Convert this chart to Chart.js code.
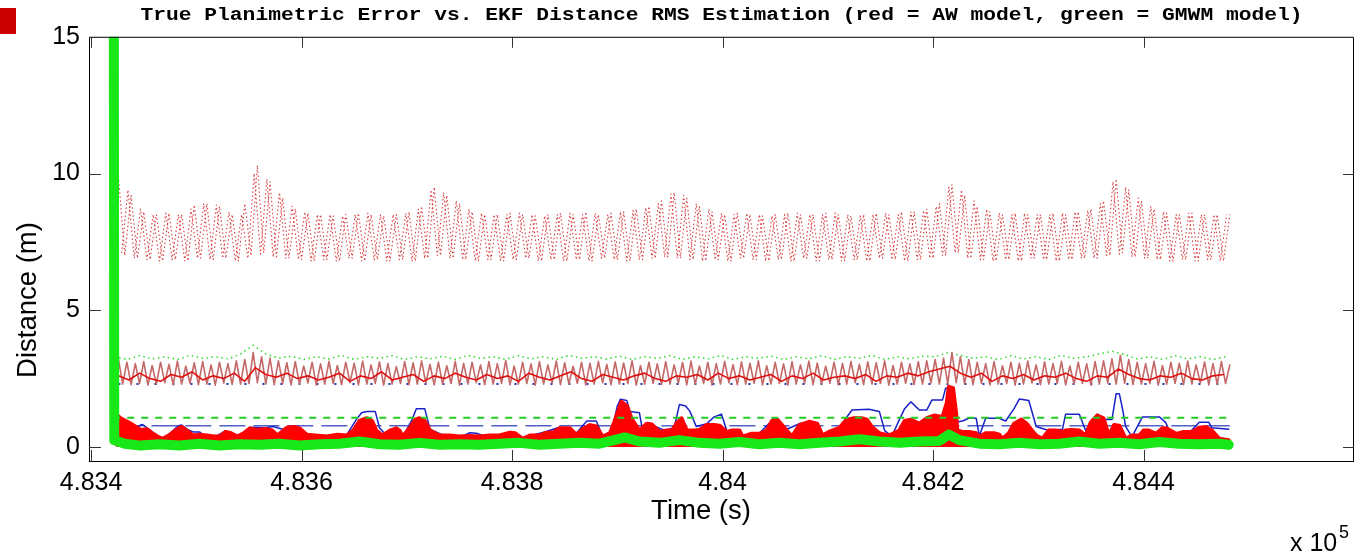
<!DOCTYPE html>
<html>
<head>
<meta charset="utf-8">
<title>True Planimetric Error vs. EKF Distance RMS Estimation</title>
<script src="https://cdn.jsdelivr.net/npm/chart.js"></script>
<style>
  html, body { margin: 0; padding: 0; background: #ffffff; }
  #wrap { position: relative; width: 1366px; height: 552px; }
  #mark { position: absolute; left: 0; top: 8px; width: 16px; height: 26px; background: #cc0000; }
  canvas { display: block; }
</style>
</head>
<body>
<div id="wrap"><div id="mark"></div><canvas id="c" width="1366" height="552"></canvas></div>
<script>
// ---------------- data (times are seconds, stored as offsets from T0) ----------------
const T0 = 483400;
const TITLE = 'True Planimetric Error vs. EKF Distance RMS Estimation (red = AW model, green = GMWM model)';
const X_LABEL = 'Time (s)';
const Y_LABEL = 'Distance (m)';
const xTickVals = [483400, 483600, 483800, 484000, 484200, 484400];
const xTickLabels = ['4.834', '4.836', '4.838', '4.84', '4.842', '4.844'];
const yTickVals = [0, 5, 10, 15];
const yTickLabels = ['0', '5', '10', '15'];

// AW model upper dotted envelope, two interleaved traces sampled every 6 s
const upperAStart = 26, upperAStep = 6;
const upperA = [
  9.9,7.0,9.2,6.9,8.6,6.85,8.5,6.8,8.55,6.85,
  8.5,6.8,8.85,6.9,8.9,6.85,8.8,6.9,8.5,6.8,
  8.9,7.0,10.3,7.1,9.7,6.95,9.1,6.9,8.7,6.85,
  8.55,6.8,8.5,6.85,8.45,6.8,8.5,6.9,8.55,6.8,
  8.5,6.85,8.45,6.8,8.5,6.85,8.6,6.8,8.8,6.9,
  9.5,7.0,9.2,6.9,8.9,6.85,8.6,6.8,8.5,6.85,
  8.5,6.8,8.55,6.85,8.5,6.9,8.45,6.8,8.5,6.85,
  8.55,6.8,8.5,6.85,8.6,6.8,8.5,6.9,8.55,6.85,
  8.6,6.8,8.7,6.85,8.8,6.9,9.0,6.95,9.3,6.9,
  9.1,6.85,8.8,6.8,8.6,6.85,8.5,6.8,8.55,6.9,
  8.5,6.85,8.45,6.8,8.5,6.85,8.55,6.8,8.5,6.9,
  8.5,6.8,8.55,6.85,8.5,6.8,8.45,6.85,8.5,6.8,
  8.55,6.9,8.5,6.85,8.6,6.8,8.6,6.85,8.7,6.9,
  8.9,7.0,9.6,7.1,9.2,6.9,8.8,6.85,8.6,6.8,
  8.5,6.85,8.55,6.8,8.5,6.9,8.5,6.85,8.55,6.8,
  8.5,6.85,8.6,6.9,8.7,6.9,9.0,7.0,9.8,7.1,
  9.4,6.95,9.0,6.9,8.7,6.85,8.55,6.8,8.5,6.85,
  8.55,6.8,8.5,6.85,8.5,6.8,8.5
];
const upperBStart = 29, upperBStep = 6;
const upperB = [
  7.1,9.4,6.9,8.7,6.85,8.5,6.8,8.55,6.85,8.5,
  6.8,8.7,6.9,8.9,6.85,8.85,6.9,8.6,6.8,8.5,
  6.9,10.0,7.05,9.8,6.95,9.3,6.9,8.8,6.85,8.6,
  6.8,8.5,6.85,8.5,6.8,8.45,6.9,8.5,6.8,8.55,
  6.85,8.5,6.8,8.5,6.85,8.55,6.8,8.7,6.9,9.4,
  7.0,9.3,6.9,9.0,6.85,8.7,6.8,8.55,6.85,8.5,
  6.8,8.5,6.85,8.55,6.9,8.5,6.8,8.45,6.85,8.5,
  6.8,8.55,6.85,8.5,6.8,8.55,6.9,8.5,6.85,8.6,
  6.8,8.65,6.85,8.75,6.9,8.9,6.95,9.25,6.9,9.2,
  6.85,8.9,6.8,8.7,6.85,8.55,6.8,8.5,6.9,8.55,
  6.85,8.5,6.8,8.45,6.85,8.5,6.8,8.55,6.9,8.5,
  6.8,8.5,6.85,8.55,6.8,8.5,6.85,8.45,6.8,8.5,
  6.9,8.55,6.85,8.5,6.8,8.6,6.85,8.65,6.9,8.8,
  7.0,9.5,7.1,9.4,6.9,9.0,6.85,8.7,6.8,8.55,
  6.85,8.5,6.8,8.55,6.9,8.5,6.85,8.5,6.8,8.55,
  6.85,8.6,6.9,8.65,6.9,8.9,7.0,9.7,7.05,9.5,
  6.95,9.1,6.9,8.8,6.85,8.6,6.8,8.5,6.85,8.55,
  6.8,8.5,6.85,8.5,6.8,8.5
];

// GMWM model dotted level, every 12 s from T0+22
const gDotStart = 22, gDotStep = 12;
const greenDot = [
  3.3,3.2,3.34,3.22,3.3,3.2,3.35,3.24,3.3,3.22,
  3.4,3.72,3.4,3.25,3.32,3.2,3.3,3.22,3.35,3.2,
  3.3,3.24,3.34,3.2,3.3,3.22,3.32,3.2,3.35,3.24,
  3.3,3.2,3.34,3.22,3.3,3.2,3.35,3.24,3.3,3.22,
  3.32,3.2,3.3,3.24,3.34,3.2,3.3,3.22,3.35,3.2,
  3.3,3.24,3.32,3.2,3.3,3.22,3.34,3.2,3.3,3.24,
  3.35,3.2,3.3,3.22,3.32,3.3,3.45,3.35,3.24,3.3,
  3.2,3.34,3.22,3.3,3.2,3.35,3.24,3.3,3.4,3.5,
  3.38,3.22,3.3,3.2,3.34,3.22,3.3,3.2,3.3
];

// AW model middle band (rapid oscillation), every 4 s from T0+26
const midStart = 26, midStep = 4;
const midBand = [
  3.2,2.3,3.1,2.28,3.05,2.32,3.12,2.26,2.98,2.3,
  3.1,2.35,3.02,2.27,3.14,2.3,2.95,2.33,3.08,2.28,
  3.12,2.3,3.0,2.26,3.1,2.34,3.05,2.29,3.15,2.3,
  3.2,2.32,3.45,2.35,3.3,2.3,3.25,2.28,3.15,2.33,
  3.08,2.27,3.12,2.3,2.96,2.34,3.1,2.26,3.04,2.3,
  3.13,2.32,2.98,2.28,3.1,2.35,3.06,2.27,3.14,2.3,
  3.0,2.33,3.11,2.26,3.05,2.3,2.94,2.32,3.12,2.28,
  3.08,2.3,3.15,2.34,3.02,2.27,3.1,2.3,2.97,2.32,
  3.13,2.26,3.06,2.3,3.1,2.35,3.0,2.28,3.12,2.3,
  3.05,2.33,3.16,2.27,2.96,2.3,3.1,2.32,3.04,2.26,
  3.12,2.3,3.0,2.34,3.14,2.28,3.08,2.3,2.95,2.33,
  3.1,2.27,3.06,2.3,3.13,2.35,3.02,2.28,3.11,2.3,
  3.07,2.32,3.15,2.26,2.98,2.3,3.1,2.33,3.04,2.28,
  3.12,2.3,3.0,2.34,3.09,2.27,3.14,2.3,2.96,2.32,
  3.1,2.26,3.05,2.3,3.13,2.35,3.01,2.28,3.11,2.3,
  3.06,2.33,3.15,2.27,2.97,2.3,3.1,2.32,3.04,2.26,
  3.12,2.3,3.0,2.34,3.14,2.28,3.07,2.3,2.95,2.33,
  3.1,2.27,3.06,2.3,3.13,2.35,3.02,2.28,3.11,2.3,
  3.08,2.32,3.15,2.26,2.98,2.3,3.1,2.33,3.04,2.28,
  3.12,2.3,3.15,2.34,3.2,2.3,3.25,2.32,3.45,2.35,
  3.3,2.3,3.2,2.28,3.1,2.33,3.05,2.27,3.12,2.3,
  2.97,2.32,3.1,2.26,3.06,2.3,3.14,2.34,3.0,2.28,
  3.11,2.3,3.05,2.33,3.13,2.27,2.96,2.3,3.1,2.32,
  3.04,2.26,3.12,2.3,3.15,2.34,3.22,2.3,3.35,2.33,
  3.2,2.28,3.1,2.3,3.05,2.32,3.13,2.26,2.98,2.3,
  3.1,2.33,3.06,2.28,3.14,2.3,3.0,2.34,3.11,2.27,
  3.05,2.3,3.12,2.32,3.0
];

// AW model middle solid line, every 10 s from T0+26
const midLineStart = 26, midLineStep = 10;
const midLine = [
  2.6,2.45,2.7,2.5,2.4,2.65,2.55,2.75,2.45,2.6,
  2.5,2.7,2.4,2.9,2.65,2.55,2.7,2.5,2.6,2.45,
  2.55,2.7,2.4,2.6,2.5,2.75,2.45,2.55,2.65,2.4,
  2.6,2.5,2.7,2.55,2.45,2.65,2.5,2.6,2.4,2.7,
  2.55,2.45,2.6,2.75,2.5,2.4,2.65,2.55,2.45,2.6,
  2.7,2.5,2.4,2.6,2.55,2.65,2.45,2.7,2.5,2.6,
  2.45,2.55,2.65,2.4,2.6,2.5,2.7,2.45,2.55,2.6,
  2.5,2.65,2.4,2.6,2.55,2.7,2.6,2.75,2.85,2.95,
  2.7,2.55,2.7,2.4,2.6,2.5,2.65,2.45,2.6,2.55,
  2.7,2.5,2.4,2.6,2.55,2.85,2.65,2.5,2.45,2.6,
  2.55,2.7,2.5,2.45,2.6,2.65
];

// AW model distance RMS (thick red)
const redT = [24,25,28,33,40,47,53,58,63,68, 75,83,86,91,97,103,110,117,122,128,
  133,139,145,151,158,165,172,177,186,193, 198,205,213,224,234,243,249,255,262,267,
  271,277,284,290,293,296,303,308,312,317, 322,331,341,350,360,369,379,388,398,403,
  410,417,426,431,440,445,455,461,467,474, 480,486,493,497,504,509,514,521,528,533,
  540,547,552,557,561,566,573,578,585,592, 597,604,609,616,619,627,635,642,647,652,
  661,666,673,682,690,695,701,711,718,725, 732,737,742,749,758,768,773,779,787,794,
  801,809,813,815,819,822,823,828,834,841, 844,850,858,863,866,872,877,884,889,894,
  898,904,910,917,923,926,932,939,945,950, 956,962,964,967,972,977,983,989,996,1000,
  1005,1012,1018,1022,1031,1038,1046,1053,1059,1065, 1072,1081];
const redV = [0.1,1.15,1.05,0.95,0.8,0.62,0.65,0.5,0.38,0.3, 0.45,0.68,0.73,0.6,0.42,0.45,0.42,0.38,0.38,0.55,
  0.5,0.38,0.5,0.68,0.62,0.66,0.6,0.42,0.7,0.73, 0.68,0.45,0.42,0.38,0.45,0.42,0.6,0.95,1.05,0.95,
  0.6,0.42,0.6,0.68,0.6,0.38,0.7,1.0,1.05,0.95, 0.6,0.42,0.42,0.38,0.4,0.38,0.42,0.42,0.52,0.5,
  0.3,0.42,0.42,0.5,0.55,0.68,0.68,0.45,0.65,0.8, 0.75,0.38,0.5,0.9,1.65,1.5,1.0,0.6,0.85,0.82,
  0.55,0.6,0.6,0.9,1.05,0.6,0.6,0.62,0.8,0.8, 0.78,0.55,0.6,0.6,0.38,0.48,0.48,0.6,0.95,1.0,
  0.6,0.38,0.8,0.92,0.85,0.42,0.55,0.7,1.0,1.05, 1.05,1.0,0.73,0.5,0.42,0.6,0.95,1.0,0.85,1.05,
  1.15,1.1,1.6,2.2,2.15,1.2,0.6,0.55,0.55,0.5, 0.38,0.5,0.5,0.45,0.3,0.5,0.85,1.0,0.85,0.6,
  0.42,0.3,0.6,0.6,0.55,0.6,0.62,0.6,0.42,0.9, 1.15,1.05,0.8,0.42,0.8,0.78,0.3,0.42,0.42,0.6,
  0.6,0.48,0.68,0.68,0.48,0.55,0.55,0.7,0.73,0.6, 0.3,0.25];

// True planimetric error (thin blue)
const blueT = [23,26,32,40,44,47,49,53,58,68, 75,83,86,91,97,103,108,117,128,139,
  151,165,173,182,193,205,224,243,252,257, 262,270,274,281,290,296,305,309,317,322,
  336,350,360,366,374,388,398,410,421,431, 445,461,471,480,486,495,500,503,509,512,
  521,524,531,536,545,554,559,565,569,575, 585,592,599,604,609,621,635,649,661,673,
  684,695,711,723,739,749,754,761,768,773, 779,787,794,799,809,812,818,821,828,834,
  841,844,850,863,869,877,882,891,898,910, 923,926,939,945,956,964,970,974,977,980,
  983,989,999,1015,1021,1027,1043,1053,1062,1065, 1081];
const blueV = [1.2,1.1,0.95,0.8,0.72,0.8,0.82,0.7,0.55,0.3, 0.5,0.78,0.8,0.65,0.55,0.55,0.4,0.35,0.6,0.35,
  0.72,0.7,0.75,0.65,0.78,0.45,0.35,0.45,1.0,1.25, 1.3,1.3,0.7,0.4,0.72,0.35,1.0,1.4,1.4,0.65,
  0.4,0.35,0.52,0.5,0.4,0.42,0.55,0.25,0.45,0.55, 0.72,0.5,0.95,0.95,0.4,0.6,1.5,1.75,1.7,1.3,
  1.25,0.6,0.8,0.75,0.6,0.7,1.55,1.5,1.3,0.75, 0.85,1.1,1.2,0.6,0.35,0.4,0.5,1.05,0.65,0.85,
  0.95,0.45,0.72,1.35,1.38,1.3,0.6,0.4,1.0,1.4, 1.65,1.35,1.35,1.72,1.72,2.15,2.15,0.9,0.95,1.05,
  1.05,0.4,1.05,1.05,0.95,1.4,1.75,1.7,0.75,0.6, 0.65,1.2,1.2,0.6,1.2,1.0,1.0,1.95,1.95,1.4,
  0.75,0.37,1.1,1.1,0.9,0.37,0.5,0.9,0.9,0.7, 0.65];

// GMWM model distance RMS (thick green)
const greenT = [21,22,32,47,65,84,103,122,141,160, 179,198,217,236,255,274,293,312,331,350,
  369,388,407,426,445,464,483,497,507,521, 540,559,578,597,616,635,654,673,692,711,
  730,749,768,787,806,815,825,844,863,882, 901,920,939,958,977,996,1015,1034,1053,1072, 1081];
const greenV = [40,0.25,0.12,0.05,0.1,0.05,0.12,0.05,0.1,0.08, 0.12,0.05,0.1,0.12,0.2,0.1,0.08,0.15,0.08,0.1,
  0.08,0.12,0.15,0.08,0.12,0.15,0.12,0.25,0.35,0.2, 0.15,0.25,0.15,0.12,0.18,0.1,0.15,0.1,0.15,0.2,
  0.28,0.2,0.15,0.2,0.22,0.45,0.25,0.12,0.1,0.15, 0.1,0.12,0.2,0.12,0.15,0.1,0.18,0.12,0.1,0.12, 0.08];

// constant reference levels: [start offset, end offset], value
const greenDashT = [21, 1082], greenDashV = [1.07, 1.07];
const blueDashT = [25, 1082], blueDashV = [0.78, 0.78];
const blueDotT = [26, 1082], blueDotV = [2.3, 2.3];

// ---------------- helpers ----------------
const pairs = (t, v) => t.map((ti, i) => ({ x: T0 + ti, y: v[i] }));
const sampled = (start, step, v) => v.map((vi, i) => ({ x: T0 + start + i * step, y: vi }));
const lineDs = (data, color, width, dash, extra) => Object.assign({
  data, borderColor: color, backgroundColor: color, borderWidth: width,
  borderDash: dash || [], pointRadius: 0, fill: false, tension: 0,
  borderJoinStyle: 'round', borderCapStyle: 'round'
}, extra || {});

const datasets = [
  lineDs(pairs(greenT, greenV), 'rgb(24,232,24)', 10),
  lineDs(pairs(greenDashT, greenDashV), '#22cc22', 2, [7, 7], { borderCapStyle: 'butt' }),
  lineDs(pairs(redT, redV), '#ff0000', 4, [], { fill: { value: 0 }, backgroundColor: '#ff0000' }),
  lineDs(pairs(blueT, blueV), '#1a22c8', 1.5),
  lineDs(pairs(blueDashT, blueDashV), '#5262c4', 1.5, [26, 8], { borderCapStyle: 'butt' }),
  lineDs(sampled(midLineStart, midLineStep, midLine), '#e01010', 1.6),
  lineDs(sampled(midStart, midStep, midBand), 'rgb(196,104,104)', 1.6),
  lineDs(pairs(blueDotT, blueDotV), '#2233b0', 2, [2, 16], { borderCapStyle: 'butt' }),
  lineDs(sampled(gDotStart, gDotStep, greenDot), '#2ad82a', 1.5, [1.5, 3.5], { borderCapStyle: 'butt' }),
  lineDs(sampled(upperAStart, upperAStep, upperA), 'rgba(214,40,40,0.9)', 1.1, [1.5, 2.5], { borderCapStyle: 'butt' }),
  lineDs(sampled(upperBStart, upperBStep, upperB), 'rgba(214,40,40,0.9)', 1.1, [1.5, 2.5], { borderCapStyle: 'butt' })
];

// ---------------- plugins ----------------
const titleStretch = {
  id: 'titleStretch',
  afterInit(chart) {
    const tb = chart.titleBlock;
    if (!tb) return;
    const orig = tb.draw.bind(tb);
    tb.draw = function (area) {
      const ctx = chart.ctx;
      const cx = (tb.left + tb.right) / 2;
      ctx.save();
      ctx.translate(cx, 0); ctx.scale(1.12, 1); ctx.translate(-cx, 0);
      orig(area);
      ctx.restore();
    };
  }
};

const frame = {
  id: 'frame',
  afterDraw(chart) {
    const { ctx, chartArea: a, scales: { x, y } } = chart;
    ctx.save();
    ctx.lineWidth = 1;
    ctx.strokeStyle = '#000';
    ctx.strokeRect(a.left + 0.5, a.top + 0.5, a.right - a.left - 1, a.bottom - a.top - 1);
    ctx.strokeStyle = '#333';
    const seg = (x1, y1, x2, y2) => { ctx.beginPath(); ctx.moveTo(x1, y1); ctx.lineTo(x2, y2); ctx.stroke(); };
    xTickVals.forEach(v => {
      const px = Math.round(x.getPixelForValue(v)) + 0.5;
      seg(px, a.bottom, px, a.bottom - 12);
      seg(px, a.top, px, a.top + 11);
    });
    yTickVals.forEach(v => {
      const py = Math.round(y.getPixelForValue(v)) + 0.5;
      seg(a.left, py, a.left + 12, py);
      seg(a.right, py, a.right - 11, py);
    });
    ctx.fillStyle = '#000';
    // axis labels (MATLAB-style, 1.1x tick font)
    ctx.font = '27.5px "Liberation Sans", Arial, sans-serif';
    ctx.textAlign = 'center';
    ctx.textBaseline = 'middle';
    ctx.fillText(X_LABEL, 701, 511);
    ctx.save();
    ctx.translate(28, 300);
    ctx.rotate(-Math.PI / 2);
    ctx.fillText(Y_LABEL, 0, 0);
    ctx.restore();
    // exponent
    ctx.textAlign = 'left';
    ctx.textBaseline = 'alphabetic';
    ctx.font = '25px "Liberation Sans", Arial, sans-serif';
    ctx.fillText('x 10', 1290, 551);
    ctx.font = '18px "Liberation Sans", Arial, sans-serif';
    ctx.fillText('5', 1339, 538);
    ctx.restore();
  }
};

const tickFont = { family: '"Liberation Sans", Arial, sans-serif', size: 25 };

new Chart(document.getElementById('c'), {
  type: 'line',
  data: { datasets },
  options: {
    responsive: false,
    animation: false,
    events: [],
    normalized: true,
    layout: { padding: { left: 0, right: 12, top: 0, bottom: 0 } },
    plugins: {
      legend: { display: false },
      tooltip: { enabled: false },
      title: {
        display: true, text: TITLE, fullSize: false, color: '#000',
        font: { family: '"Liberation Mono", "Courier New", monospace', size: 19, weight: 'bold' },
        padding: { top: 4, bottom: 10 }
      }
    },
    scales: {
      x: {
        type: 'linear', min: 483398, max: 484600,
        grid: { display: false, drawTicks: false },
        border: { display: false },
        afterFit: s => { s.height = 90; },
        afterBuildTicks: s => { s.ticks = xTickVals.map(v => ({ value: v })); },
        ticks: {
          autoSkip: false, maxRotation: 0, minRotation: 0, color: '#000', font: tickFont, padding: 6,
          callback: (v, i) => xTickLabels[i]
        },
        title: { display: false }
      },
      y: {
        type: 'linear', min: -0.55, max: 15,
        grid: { display: false, drawTicks: false },
        border: { display: false },
        afterFit: s => { s.width = 89; },
        afterBuildTicks: s => { s.ticks = yTickVals.map(v => ({ value: v })); },
        ticks: {
          color: '#000', font: tickFont, padding: 9,
          callback: (v, i) => yTickLabels[i]
        },
        title: { display: false }
      }
    }
  },
  plugins: [titleStretch, frame]
});
</script>
</body>
</html>
